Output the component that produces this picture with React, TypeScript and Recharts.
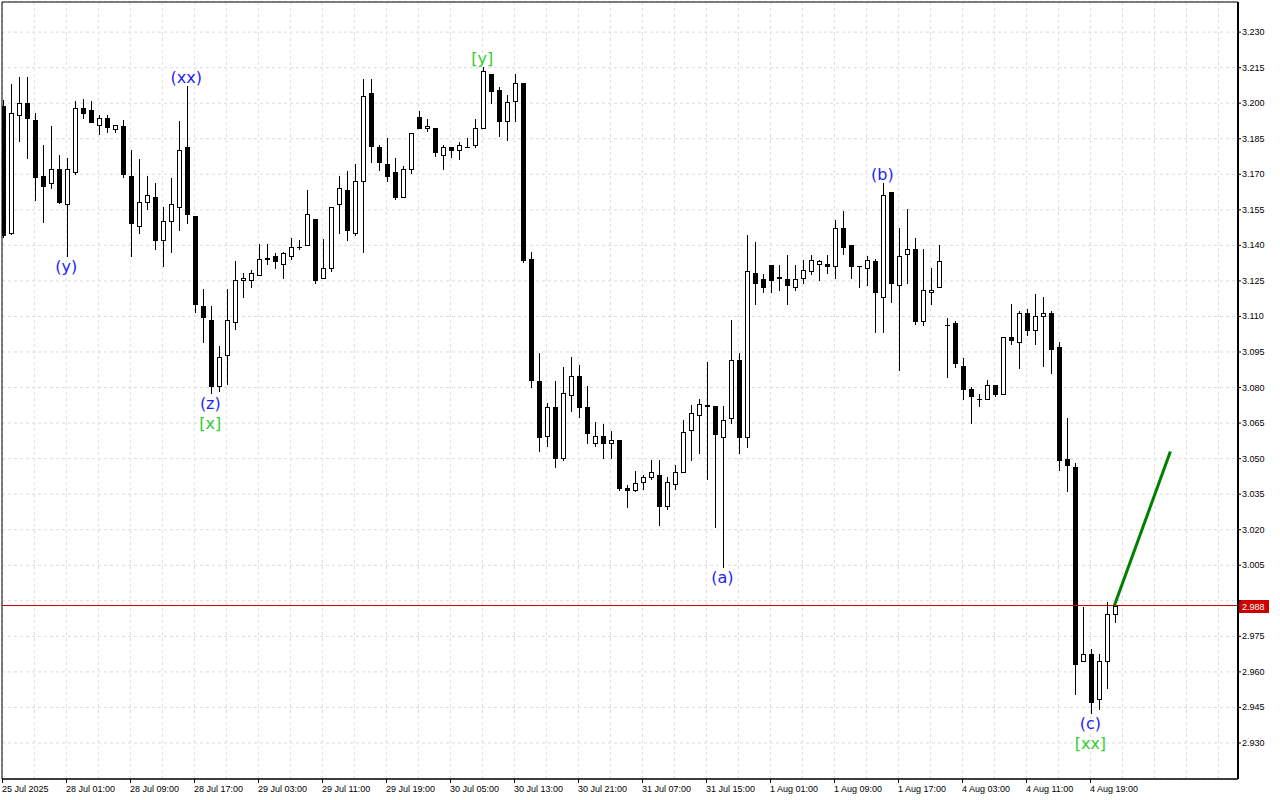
import React from "react";
import {
  ComposedChart,
  Bar,
  Line,
  XAxis,
  YAxis,
  CartesianGrid,
  ReferenceLine,
  ReferenceArea,
  ReferenceDot,
} from "recharts";

// hourly candles, index 0 = first visible bar
const opens = [
  3.199, 3.1452, 3.195, 3.2, 3.193, 3.1692, 3.1662, 3.1722, 3.1574, 3.171,
  3.198, 3.1971, 3.1909, 3.1936, 3.1892, 3.1902, 3.1694, 3.1482, 3.1583, 3.1605,
  3.1422, 3.1502, 3.1562, 3.1814, 3.1526, 3.1146, 3.1083, 3.0807, 3.0936, 3.1076,
  3.1255, 3.1254, 3.1276, 3.1344, 3.1356, 3.1323, 3.1355, 3.1393, 3.1402, 3.1512,
  3.1264, 3.1304, 3.1575, 3.1633, 3.1453, 3.1671, 3.2041, 3.1817, 3.1745, 3.1708,
  3.1605, 3.1723, 3.1941, 3.1895, 3.1895, 3.1782, 3.1815, 3.1803, 3.1815, 3.1822,
  3.1895, 3.2123, 3.2056, 3.1923, 3.2011, 3.2084, 3.1343, 3.0826, 3.0594, 3.0716,
  3.0504, 3.0767, 3.0847, 3.0716, 3.0565, 3.0594, 3.0565, 3.0579, 3.0377, 3.0367,
  3.0401, 3.0424, 3.0433, 3.03, 3.0394, 3.0445, 3.062, 3.0684, 3.0724, 3.0724,
  3.0592, 3.067, 3.0916, 3.0592, 3.1282, 3.1257, 3.1316, 3.1264, 3.1257, 3.1224,
  3.1264, 3.1293, 3.1323, 3.1323, 3.1313, 3.1474, 3.1401, 3.1314, 3.1306, 3.1335,
  3.1182, 3.1626, 3.1232, 3.1363, 3.1384, 3.1081, 3.1203, 3.1225, 3.1063, 3.1074,
  3.0893, 3.0795, 3.0753, 3.0753, 3.0811, 3.0773, 3.1013, 3.0992, 3.1114, 3.1041,
  3.1101, 3.1114, 3.0972, 3.0497, 3.0463, 2.9645, 2.9675, 2.9485, 2.9645, 2.9843,
];
const highs = [
  3.2015, 3.208, 3.211, 3.211, 3.196, 3.1822, 3.1902, 3.178, 3.177, 3.201,
  3.2017, 3.2008, 3.1952, 3.195, 3.191, 3.193, 3.1803, 3.1765, 3.1694, 3.1664,
  3.1563, 3.1685, 3.1925, 3.2072, 3.1526, 3.1215, 3.1146, 3.0977, 3.1215, 3.1335,
  3.1285, 3.1295, 3.1404, 3.1404, 3.1367, 3.1374, 3.1433, 3.1423, 3.1635, 3.1512,
  3.1425, 3.1563, 3.1694, 3.1715, 3.1744, 3.2101, 3.2101, 3.1824, 3.1853, 3.1768,
  3.1737, 3.1874, 3.1965, 3.1934, 3.1895, 3.1824, 3.1815, 3.1835, 3.1855, 3.1934,
  3.2154, 3.2125, 3.207, 3.2035, 3.2123, 3.2084, 3.1373, 3.0944, 3.0735, 3.0826,
  3.0885, 3.0927, 3.0894, 3.0805, 3.0653, 3.0645, 3.0616, 3.0579, 3.0387, 3.0448,
  3.0433, 3.0496, 3.0496, 3.0424, 3.0475, 3.0665, 3.0725, 3.0753, 3.0906, 3.0724,
  3.0724, 3.1083, 3.0947, 3.1443, 3.1415, 3.1278, 3.1316, 3.1316, 3.1358, 3.1316,
  3.1337, 3.1358, 3.1337, 3.1358, 3.1505, 3.1547, 3.1401, 3.1315, 3.1355, 3.1344,
  3.1665, 3.1626, 3.1474, 3.1554, 3.1431, 3.1384, 3.1306, 3.1401, 3.1095, 3.1081,
  3.0926, 3.0804, 3.0774, 3.0833, 3.0812, 3.1013, 3.1153, 3.1124, 3.1132, 3.1194,
  3.1183, 3.1124, 3.0992, 3.0673, 3.0483, 2.9872, 2.9696, 2.9676, 2.9895, 2.9907,
];
const lows = [
  3.1435, 3.145, 3.184, 3.1769, 3.159, 3.15, 3.164, 3.158, 3.1355, 3.17,
  3.1937, 3.192, 3.1871, 3.1878, 3.1878, 3.169, 3.1355, 3.1453, 3.1554, 3.1383,
  3.1313, 3.1372, 3.1464, 3.1493, 3.1117, 3.0994, 3.0777, 3.0786, 3.0814, 3.1045,
  3.1183, 3.1225, 3.1276, 3.1321, 3.1305, 3.1261, 3.1344, 3.1383, 3.14, 3.1243,
  3.1264, 3.1293, 3.1451, 3.1421, 3.1443, 3.1372, 3.175, 3.172, 3.1671, 3.1597,
  3.1605, 3.1705, 3.1894, 3.1881, 3.1779, 3.1723, 3.1772, 3.1765, 3.1813, 3.1817,
  3.1895, 3.2, 3.186, 3.1843, 3.1923, 3.1331, 3.0803, 3.0534, 3.0555, 3.0464,
  3.0496, 3.0702, 3.0674, 3.0565, 3.0555, 3.0504, 3.0504, 3.0366, 3.0294, 3.0363,
  3.037, 3.0413, 3.022, 3.0288, 3.037, 3.0445, 3.0494, 3.0522, 3.0412, 3.0212,
  3.0041, 3.0651, 3.0524, 3.0551, 3.1152, 3.1203, 3.1203, 3.1212, 3.1153, 3.1212,
  3.1243, 3.1278, 3.1254, 3.1283, 3.1264, 3.1362, 3.1264, 3.1224, 3.1233, 3.1034,
  3.1034, 3.116, 3.0874, 3.124, 3.107, 3.1063, 3.1152, 3.1225, 3.0844, 3.0887,
  3.0752, 3.0651, 3.0722, 3.0753, 3.0764, 3.0773, 3.0982, 3.0881, 3.102, 3.0982,
  3.089, 3.086, 3.0452, 3.0363, 2.9505, 2.9645, 2.9425, 2.9445, 2.9534, 2.9812,
];
const closes = [
  3.1443, 3.1959, 3.2, 3.1937, 3.169, 3.1652, 3.1722, 3.1581, 3.1722, 3.198,
  3.1957, 3.192, 3.1936, 3.1899, 3.1909, 3.17, 3.1493, 3.1583, 3.1612, 3.1422,
  3.1503, 3.1575, 3.1803, 3.1531, 3.1153, 3.1096, 3.0805, 3.0928, 3.1083, 3.1255,
  3.1263, 3.1285, 3.1344, 3.1345, 3.1335, 3.1366, 3.1395, 3.1394, 3.1533, 3.1254,
  3.1306, 3.1563, 3.1642, 3.1464, 3.1671, 3.2032, 3.1821, 3.1752, 3.1692, 3.1604,
  3.1724, 3.1874, 3.1894, 3.1904, 3.1793, 3.1815, 3.1803, 3.1824, 3.1815, 3.1895,
  3.2135, 3.2053, 3.1923, 3.2006, 3.2086, 3.134, 3.0833, 3.0593, 3.0716, 3.0504,
  3.0777, 3.0847, 3.0716, 3.0607, 3.0594, 3.0565, 3.0579, 3.0374, 3.0367, 3.0398,
  3.0424, 3.0445, 3.03, 3.0402, 3.0445, 3.0614, 3.0694, 3.0732, 3.0725, 3.0603,
  3.0665, 3.0916, 3.0592, 3.1291, 3.1241, 3.1224, 3.1254, 3.1265, 3.1233, 3.1257,
  3.1295, 3.1337, 3.1336, 3.1313, 3.1474, 3.1394, 3.1313, 3.1313, 3.1337, 3.1202,
  3.1613, 3.124, 3.1355, 3.1384, 3.108, 3.1212, 3.1212, 3.1334, 3.1063, 3.0903,
  3.0794, 3.0764, 3.0753, 3.0812, 3.0774, 3.1013, 3.0999, 3.1114, 3.1041, 3.1101,
  3.1114, 3.0961, 3.0494, 3.0473, 2.9635, 2.9675, 2.9475, 2.9645, 2.9843, 2.988,
];

// one label every 8 bars, grid every 4
const timeLabels = [
  "25 Jul 2025", "28 Jul 01:00", "28 Jul 09:00", "28 Jul 17:00", "29 Jul 03:00",
  "29 Jul 11:00", "29 Jul 19:00", "30 Jul 05:00", "30 Jul 13:00", "30 Jul 21:00",
  "31 Jul 07:00", "31 Jul 15:00", "1 Aug 01:00", "1 Aug 09:00", "1 Aug 17:00",
  "4 Aug 03:00", "4 Aug 11:00", "4 Aug 19:00",
];
const LABEL_STEP = 8;
const GRID_STEP = 4;
const TOTAL_SLOTS = 155;

const priceTicks = [
  2.93, 2.945, 2.96, 2.975, 2.99, 3.005, 3.02, 3.035, 3.05, 3.065, 3.08,
  3.095, 3.11, 3.125, 3.14, 3.155, 3.17, 3.185, 3.2, 3.215, 3.23,
];
const lastPrice = 2.988;

// forecast line
const projIdx = [139, 146];
const projVal = [2.988, 3.053];

const BLUE = "#1e1eff";
const GREEN = "#32cd32";
const waves = [
  { i: 8, text: "(y)", color: BLUE, side: "below", row: 0 },
  { i: 23, text: "(xx)", color: BLUE, side: "above", row: 0 },
  { i: 26, text: "(z)", color: BLUE, side: "below", row: 0 },
  { i: 26, text: "[x]", color: GREEN, side: "below", row: 1 },
  { i: 60, text: "[y]", color: GREEN, side: "above", row: 0 },
  { i: 90, text: "(a)", color: BLUE, side: "below", row: 0 },
  { i: 110, text: "(b)", color: BLUE, side: "above", row: 0 },
  { i: 136, text: "(c)", color: BLUE, side: "below", row: 0 },
  { i: 136, text: "[xx]", color: GREEN, side: "below", row: 1 },
];

const X_MIN = -0.04;
const X_MAX = 154.45;
const Y_MIN = 2.9148;
const Y_MAX = 3.2427;
const FONT = "'Liberation Sans', Arial, sans-serif";

const data = Array.from({ length: 147 }, (_, i) => {
  const row: any = { i };
  if (i < opens.length) {
    row.open = opens[i];
    row.high = highs[i];
    row.low = lows[i];
    row.close = closes[i];
    row.range = [lows[i], highs[i]];
  }
  const p = projIdx.indexOf(i);
  if (p >= 0) row.proj = projVal[p];
  return row;
});

const xTicks = Array.from({ length: Math.ceil(TOTAL_SLOTS / GRID_STEP) }, (_, k) => k * GRID_STEP);

function Candle(props: any) {
  const { x, y, width, height, payload } = props;
  if (!payload || payload.open == null) return <g />;
  const top = Math.min(y, y + height);
  const bot = Math.max(y, y + height);
  const span = payload.high - payload.low;
  const k = span > 0 ? (bot - top) / span : 0;
  const yOf = (v: number) => top + (payload.high - v) * k;
  const cx = Math.round(x + width / 2);
  const up = payload.close >= payload.open;
  const bTop = Math.round(yOf(Math.max(payload.open, payload.close)));
  const bBot = Math.round(yOf(Math.min(payload.open, payload.close)));
  return (
    <g>
      <line x1={cx + 0.5} x2={cx + 0.5} y1={Math.round(top)} y2={Math.round(bot) + 1} stroke="#000" />
      {bBot - bTop < 1 ? (
        <line x1={cx - 2} x2={cx + 3} y1={bTop + 0.5} y2={bTop + 0.5} stroke="#000" />
      ) : (
        <rect
          x={cx - 1.5}
          y={bTop + 0.5}
          width={4}
          height={bBot - bTop}
          fill={up ? "#fff" : "#000"}
          stroke="#000"
        />
      )}
    </g>
  );
}

function XTick(props: any) {
  const { x, y, payload } = props;
  const idx = payload.value;
  if (idx % LABEL_STEP !== 0) return <g />;
  const text = timeLabels[idx / LABEL_STEP];
  if (!text) return <g />;
  const px = Math.round(x) + 0.5;
  return (
    <g>
      <line x1={px} x2={px} y1={y} y2={y + 4} stroke="#000" />
      <text x={px - 0.5} y={y + 13} fontSize={9} fontFamily={FONT} fill="#000">
        {text}
      </text>
    </g>
  );
}

function YTick(props: any) {
  const { x, y, payload } = props;
  if (Math.abs(payload.value - lastPrice) < 0.005) return <g />;
  return (
    <text x={x} y={y + 3} fontSize={9} fontFamily={FONT} fill="#000">
      {payload.value.toFixed(3)}
    </text>
  );
}

function PriceTag(props: any) {
  const { viewBox } = props;
  const bx = viewBox.x + viewBox.width + 1;
  const by = Math.round(viewBox.y) - 6;
  return (
    <g>
      <rect x={bx} y={by} width={30} height={13} fill="#cc0000" />
      <text x={bx + 3} y={by + 10} fontSize={9} fontFamily={FONT} fill="#fff">
        {lastPrice.toFixed(3)}
      </text>
    </g>
  );
}

function waveShape(w: (typeof waves)[number]) {
  return (props: any) => {
    const { cx, cy } = props;
    const ty = w.side === "above" ? cy - 3 : cy + 16 + w.row * 20;
    return (
      <text
        x={cx}
        y={ty}
        textAnchor="middle"
        fontSize={16}
        fontFamily="'DejaVu Sans', sans-serif"
        fill={w.color}
      >
        {w.text}
      </text>
    );
  };
}

export default function App() {
  return (
    <div style={{ position: "absolute", left: 0, top: 0, background: "#fff" }}>
      <ComposedChart
        width={1280}
        height={800}
        data={data}
        margin={{ top: 2, right: 0, bottom: 0, left: 2 }}
      >
        <CartesianGrid stroke="#dcdcdc" strokeDasharray="3 3" />
        <XAxis
          dataKey="i"
          type="number"
          domain={[X_MIN, X_MAX]}
          allowDataOverflow
          ticks={xTicks}
          interval={0}
          height={21}
          tickSize={0}
          tickMargin={0}
          tickLine={false}
          axisLine={{ stroke: "#000" }}
          tick={<XTick />}
        />
        <YAxis
          orientation="right"
          type="number"
          domain={[Y_MIN, Y_MAX]}
          allowDataOverflow
          ticks={priceTicks}
          interval={0}
          width={42}
          tickSize={3}
          tickMargin={1}
          tickLine={{ stroke: "#000" }}
          axisLine={{ stroke: "#000", strokeWidth: 2 }}
          tick={<YTick />}
        />
        <ReferenceArea
          x1={X_MIN}
          x2={X_MAX}
          y1={Y_MIN}
          y2={Y_MAX}
          fill="none"
          stroke="#000"
          ifOverflow="visible"
        />
        <ReferenceLine y={lastPrice} stroke="#c00000" label={<PriceTag />} />
        <Bar dataKey="range" barSize={7} shape={<Candle />} isAnimationActive={false} />
        <Line
          dataKey="proj"
          stroke="#008000"
          strokeWidth={3}
          dot={false}
          connectNulls
          isAnimationActive={false}
        />
        {waves.map((w, n) => (
          <ReferenceDot
            key={n}
            x={w.i}
            y={w.side === "above" ? highs[w.i] : lows[w.i]}
            r={0}
            shape={waveShape(w)}
          />
        ))}
      </ComposedChart>
    </div>
  );
}
